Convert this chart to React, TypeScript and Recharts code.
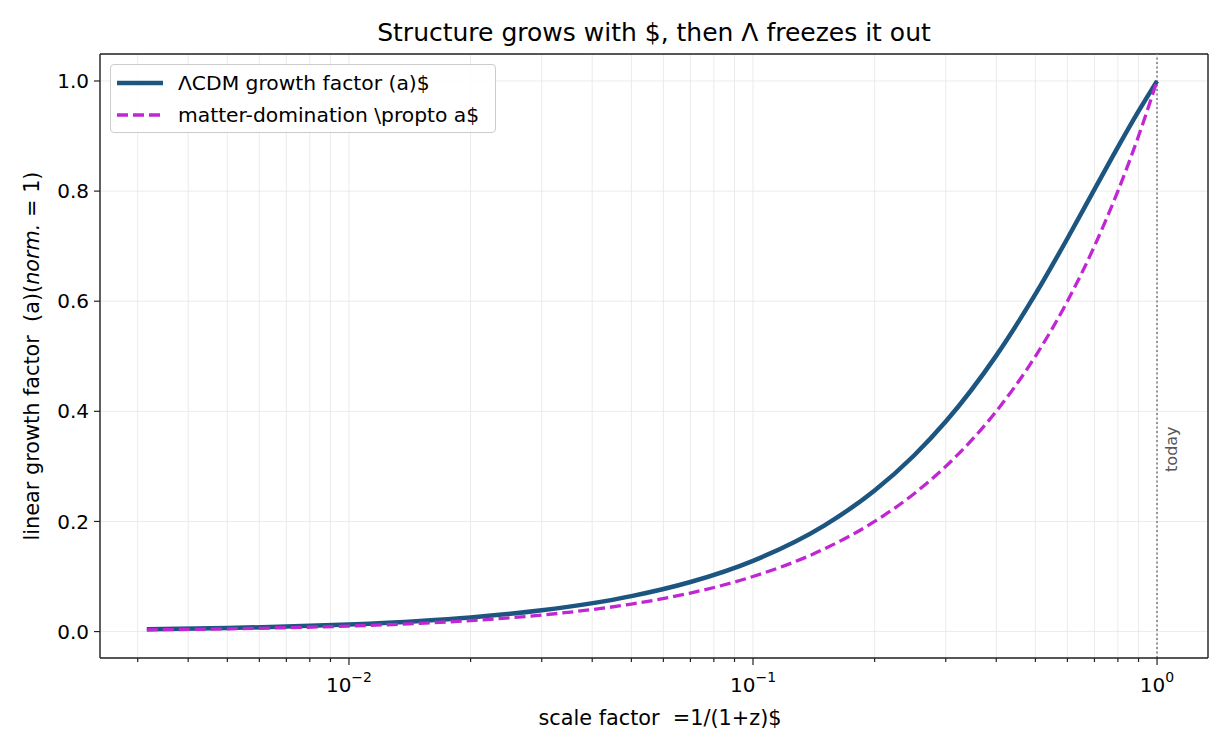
import {
  LineChart,
  Line,
  XAxis,
  YAxis,
  CartesianGrid,
  ReferenceLine,
  ReferenceDot,
  Legend,
} from 'recharts';

// scale factor a (log-spaced sample points)
const scaleFactor = [
  0.00316, 0.005, 0.007, 0.01, 0.015, 0.02, 0.03, 0.05, 0.07, 0.1, 0.15, 0.2,
  0.25, 0.3, 0.4, 0.5, 0.6, 0.7, 0.8, 0.9, 1.0,
];
// LCDM linear growth factor D(a), normalised to 1 today
const lcdmGrowth = [
  0.0041, 0.0064, 0.009, 0.0129, 0.0193, 0.0257, 0.0386, 0.0643, 0.09, 0.1285,
  0.1925, 0.2562, 0.3193, 0.3814, 0.5012, 0.6128, 0.7139, 0.803, 0.8799,
  0.9452, 1.0,
];
// matter domination, D proportional to a
const matterGrowth = [
  0.00316, 0.005, 0.007, 0.01, 0.015, 0.02, 0.03, 0.05, 0.07, 0.1, 0.15, 0.2,
  0.25, 0.3, 0.4, 0.5, 0.6, 0.7, 0.8, 0.9, 1.0,
];

const majorTicks = [0.01, 0.1, 1];
const minorTicks = [
  0.003, 0.004, 0.005, 0.006, 0.007, 0.008, 0.009, 0.02, 0.03, 0.04, 0.05,
  0.06, 0.07, 0.08, 0.09, 0.2, 0.3, 0.4, 0.5, 0.6, 0.7, 0.8, 0.9,
];
const yTicks = [0, 0.2, 0.4, 0.6, 0.8, 1.0];

const series = [
  { key: 'lcdm', name: 'ΛCDM growth factor (a)$', color: '#1c5580', width: 4.5, dash: undefined },
  { key: 'matter', name: 'matter-domination \\propto a$', color: '#c026d3', width: 3.3, dash: '11 5' },
];

const FONT = '"DejaVu Sans", sans-serif';

const data = scaleFactor.map((a, i) => ({
  a,
  lcdm: lcdmGrowth[i],
  matter: matterGrowth[i],
}));

const xTicks = [...minorTicks, ...majorTicks].sort((p, q) => p - q);

function XTick(props: any) {
  const { x, y, payload } = props;
  const v = payload.value;
  const major = majorTicks.some((m) => Math.abs(m - v) < 1e-9);
  const exp = Math.round(Math.log10(v));
  const top = y - 7;
  return (
    <g>
      <line x1={x} x2={x} y1={top} y2={top + (major ? 7 : 4)} stroke="#222" strokeWidth={1.2} />
      {major && (
        <text x={x} y={y + 27} textAnchor="middle" fontSize={20} fontFamily={FONT} fill="#000">
          10
          <tspan dy={-10} fontSize={14}>
            {exp === 0 ? '0' : '\u2212' + -exp}
          </tspan>
        </text>
      )}
    </g>
  );
}

function XLabel(props: any) {
  const { viewBox } = props;
  const cx = viewBox.x + viewBox.width / 2;
  return (
    <text x={cx + 6} y={viewBox.y + 67} textAnchor="middle" fontSize={20.8} fontFamily={FONT} fill="#000">
      {'scale factor\u00a0\u00a0=1/(1+z)$'}
    </text>
  );
}

function YLabel(props: any) {
  const { viewBox } = props;
  const cx = viewBox.x + 32;
  const cy = viewBox.y + viewBox.height / 2;
  return (
    <text
      x={cx}
      y={cy}
      transform={`rotate(-90 ${cx} ${cy})`}
      textAnchor="middle"
      dominantBaseline="central"
      fontSize={20.8}
      fontFamily={FONT}
      fill="#000"
    >
      {'linear growth factor\u00a0\u00a0(a)('}
      <tspan fontStyle="italic">norm.</tspan>
      {' = 1)'}
    </text>
  );
}

function TodayLabel(props: any) {
  const { viewBox } = props;
  const cx = viewBox.x + 14;
  const cy = viewBox.y;
  return (
    <text
      x={cx}
      y={cy}
      transform={`rotate(-90 ${cx} ${cy})`}
      textAnchor="start"
      dominantBaseline="central"
      fontSize={16}
      fontFamily={FONT}
      fill="#555"
    >
      today
    </text>
  );
}

function LegendBox() {
  return (
    <div
      style={{
        width: 386,
        height: 69,
        border: '1px solid #cccccc',
        borderRadius: 4,
        background: 'rgba(255,255,255,0.85)',
        fontFamily: FONT,
        fontSize: 20.3,
        boxSizing: 'border-box',
        paddingTop: 2,
      }}
    >
      {series.map((s) => (
        <div key={s.key} style={{ display: 'flex', alignItems: 'center', height: 32 }}>
          <svg width={54} height={10} style={{ marginLeft: 6 }}>
            <line
              x1={0}
              x2={46}
              y1={5}
              y2={5}
              stroke={s.color}
              strokeWidth={s.width}
              strokeDasharray={s.dash}
            />
          </svg>
          <span style={{ marginLeft: 7, color: '#000', whiteSpace: 'pre' }}>{s.name}</span>
        </div>
      ))}
    </div>
  );
}

export default function App() {
  return (
    <div
      style={{
        position: 'absolute',
        left: 0,
        top: 0,
        width: 1230,
        height: 750,
        background: '#fff',
        fontFamily: FONT,
      }}
    >
      <div
        style={{
          position: 'absolute',
          left: 100,
          width: 1108,
          top: 17,
          textAlign: 'center',
          fontSize: 25,
          lineHeight: '32px',
          color: '#000',
          whiteSpace: 'pre',
        }}
      >
        Structure grows with $, then Λ freezes it out
      </div>
      <LineChart
        width={1230}
        height={750}
        data={data}
        margin={{ top: 54, right: 22, left: 0, bottom: 0 }}
        style={{ position: 'absolute', left: 0, top: 0 }}
      >
        <CartesianGrid stroke="#e6e6e6" strokeWidth={0.8} />
        <XAxis
          dataKey="a"
          type="number"
          scale="log"
          domain={[0.00242, 1.337]}
          allowDataOverflow
          ticks={xTicks}
          interval={0}
          height={92}
          tickSize={7}
          tickMargin={0}
          tickLine={false}
          tick={<XTick />}
          axisLine={{ stroke: '#222', strokeWidth: 1.4 }}
          label={<XLabel />}
        />
        <YAxis
          type="number"
          domain={[-0.048, 1.049]}
          allowDataOverflow
          ticks={yTicks}
          interval={0}
          width={100}
          tickSize={6}
          tickMargin={5}
          tickFormatter={(v: number) => v.toFixed(1)}
          tick={{ fontSize: 20, fontFamily: FONT, fill: '#000' }}
          tickLine={{ stroke: '#222', strokeWidth: 1.2 }}
          axisLine={{ stroke: '#222', strokeWidth: 1.4 }}
          label={<YLabel />}
        />
        {/* top and right frame */}
        <ReferenceLine y={1.049} stroke="#222" strokeWidth={1.4} />
        <ReferenceLine x={1.337} stroke="#222" strokeWidth={1.4} />
        <ReferenceLine x={1} stroke="#808080" strokeWidth={1.6} strokeDasharray="2 2.5" />
        <ReferenceDot x={1} y={0.29} r={0} fill="none" stroke="none" label={<TodayLabel />} />
        <Legend
          layout="vertical"
          align="center"
          verticalAlign="middle"
          content={<LegendBox />}
          wrapperStyle={{ left: 110, top: 64, width: 'auto' }}
        />
        {series.map((s) => (
          <Line
            key={s.key}
            dataKey={s.key}
            name={s.name}
            type="monotone"
            stroke={s.color}
            strokeWidth={s.width}
            strokeDasharray={s.dash}
            dot={false}
            activeDot={false}
            isAnimationActive={false}
          />
        ))}
      </LineChart>
    </div>
  );
}
